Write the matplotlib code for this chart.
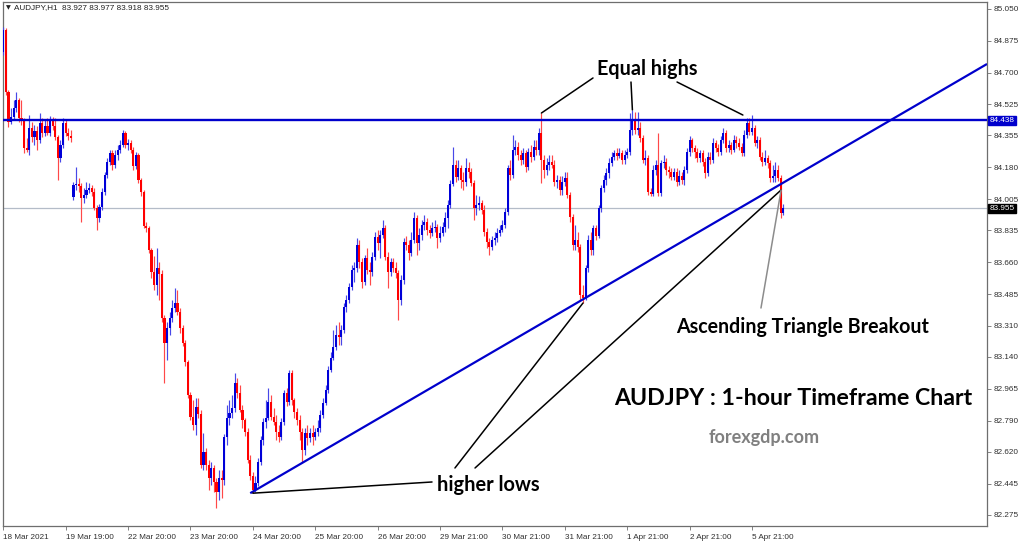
import numpy as np
import matplotlib
matplotlib.use("Agg")
import matplotlib.pyplot as plt
import matplotlib.transforms as mtransforms

# ---------------- data (AUDJPY H1) ----------------
opens = [
    84.813, 84.933, 84.593, 84.429, 84.456, 84.505, 84.549, 84.451, 84.440, 84.286,
    84.275, 84.396, 84.346, 84.379, 84.330, 84.423, 84.368, 84.407, 84.368, 84.440,
    84.407, 84.346, 84.231, 84.303, 84.423, 84.368, 84.352, 84.017, 84.083, 84.089,
    84.078, 84.012, 84.028, 84.056, 84.067, 84.045, 83.957, 83.902, 83.962, 84.045,
    84.138, 84.209, 84.259, 84.193, 84.248, 84.275, 84.303, 84.368, 84.303, 84.313,
    84.275, 84.187, 84.248, 84.111, 84.045, 83.858, 83.847, 83.726, 83.606, 83.534,
    83.628, 83.595, 83.353, 83.216, 83.299, 83.353, 83.408, 83.436, 83.386, 83.299,
    83.216, 83.112, 82.931, 82.810, 82.766, 82.865, 82.827, 82.547, 82.618, 82.547,
    82.476, 82.531, 82.454, 82.399, 82.476, 82.465, 82.701, 82.805, 82.832, 82.860,
    82.997, 82.942, 82.849, 82.794, 82.728, 82.574, 82.487, 82.410, 82.448, 82.563,
    82.684, 82.783, 82.805, 82.893, 82.810, 82.783, 82.728, 82.701, 82.783, 82.942,
    82.893, 83.052, 82.904, 82.838, 82.794, 82.728, 82.629, 82.723, 82.695, 82.723,
    82.701, 82.728, 82.750, 82.821, 82.887, 82.959, 83.068, 83.134, 83.194, 83.260,
    83.249, 83.288, 83.414, 83.452, 83.523, 83.617, 83.628, 83.754, 83.661, 83.551,
    83.683, 83.617, 83.606, 83.688, 83.798, 83.765, 83.809, 83.847, 83.688, 83.606,
    83.661, 83.628, 83.600, 83.452, 83.562, 83.770, 83.754, 83.710, 83.781, 83.902,
    83.765, 83.809, 83.864, 83.880, 83.836, 83.820, 83.847, 83.853, 83.792, 83.820,
    83.853, 83.902, 83.973, 84.089, 84.193, 84.127, 84.176, 84.111, 84.100, 84.176,
    84.154, 84.094, 83.957, 83.973, 83.984, 83.946, 83.825, 83.770, 83.743, 83.781,
    83.792, 83.820, 83.836, 83.864, 83.935, 84.176, 84.138, 84.275, 84.292, 84.248,
    84.220, 84.259, 84.182, 84.264, 84.237, 84.292, 84.275, 84.368, 84.220, 84.165,
    84.193, 84.209, 84.193, 84.100, 84.111, 84.056, 84.100, 84.121, 84.028, 83.908,
    83.754, 83.781, 83.743, 83.480, 83.463, 83.628, 83.781, 83.726, 83.847, 83.803,
    83.957, 84.067, 84.111, 84.149, 84.204, 84.237, 84.259, 84.242, 84.259, 84.220,
    84.248, 84.264, 84.385, 84.440, 84.385, 84.396, 84.341, 84.220, 84.231, 84.045,
    84.034, 84.165, 84.193, 84.039, 84.204, 84.209, 84.165, 84.154, 84.127, 84.154,
    84.100, 84.132, 84.111, 84.165, 84.264, 84.330, 84.286, 84.264, 84.231, 84.259,
    84.209, 84.149, 84.237, 84.220, 84.313, 84.286, 84.264, 84.330, 84.368, 84.286,
    84.303, 84.275, 84.330, 84.313, 84.292, 84.259, 84.357, 84.423, 84.374, 84.396,
    84.313, 84.330, 84.237, 84.209, 84.231, 84.204, 84.121, 84.132, 84.165, 84.121,
    83.927,
]
highs = [
    84.950, 84.944, 84.604, 84.505, 84.549, 84.593, 84.560, 84.549, 84.451, 84.341,
    84.467, 84.429, 84.412, 84.407, 84.478, 84.451, 84.440, 84.451, 84.462, 84.456,
    84.451, 84.357, 84.330, 84.451, 84.440, 84.396, 84.385, 84.100, 84.182, 84.121,
    84.094, 84.067, 84.100, 84.094, 84.083, 84.067, 83.973, 83.979, 84.067, 84.154,
    84.231, 84.275, 84.275, 84.275, 84.303, 84.330, 84.385, 84.379, 84.335, 84.330,
    84.292, 84.264, 84.259, 84.121, 84.056, 83.880, 83.858, 83.737, 83.694, 83.737,
    83.661, 83.617, 83.370, 83.331, 83.386, 83.452, 83.518, 83.507, 83.408, 83.315,
    83.233, 83.123, 82.948, 82.904, 82.915, 82.915, 82.849, 82.723, 82.640, 82.574,
    82.563, 82.547, 82.476, 82.520, 82.520, 82.717, 82.876, 82.904, 82.931, 83.052,
    83.024, 82.986, 82.876, 82.805, 82.750, 82.602, 82.509, 82.487, 82.585, 82.706,
    82.805, 82.904, 82.970, 82.931, 82.860, 82.821, 82.766, 82.805, 82.959, 82.970,
    83.068, 83.068, 82.915, 82.860, 82.821, 82.750, 82.750, 82.766, 82.750, 82.766,
    82.750, 82.794, 82.849, 82.915, 82.986, 83.090, 83.167, 83.288, 83.315, 83.331,
    83.315, 83.436, 83.480, 83.545, 83.644, 83.661, 83.792, 83.781, 83.683, 83.699,
    83.737, 83.661, 83.716, 83.825, 83.836, 83.836, 83.891, 83.864, 83.716, 83.683,
    83.683, 83.661, 83.617, 83.589, 83.792, 83.803, 83.781, 83.825, 83.935, 83.918,
    83.847, 83.891, 83.918, 83.902, 83.864, 83.880, 83.891, 83.869, 83.858, 83.880,
    83.935, 84.001, 84.111, 84.292, 84.220, 84.220, 84.193, 84.154, 84.231, 84.209,
    84.176, 84.111, 84.028, 84.023, 84.001, 83.973, 83.847, 83.792, 83.803, 83.825,
    83.847, 83.864, 83.891, 83.957, 84.193, 84.220, 84.357, 84.330, 84.319, 84.275,
    84.286, 84.275, 84.286, 84.303, 84.330, 84.330, 84.396, 84.478, 84.248, 84.231,
    84.248, 84.248, 84.220, 84.138, 84.132, 84.132, 84.154, 84.154, 84.045, 83.924,
    83.864, 83.825, 83.759, 83.534, 83.644, 83.809, 83.825, 83.864, 83.864, 83.973,
    84.083, 84.138, 84.176, 84.231, 84.264, 84.275, 84.286, 84.286, 84.275, 84.275,
    84.286, 84.478, 84.495, 84.484, 84.484, 84.429, 84.357, 84.275, 84.248, 84.067,
    84.193, 84.220, 84.368, 84.220, 84.248, 84.231, 84.187, 84.176, 84.176, 84.176,
    84.165, 84.154, 84.187, 84.286, 84.352, 84.341, 84.303, 84.286, 84.275, 84.275,
    84.231, 84.264, 84.264, 84.341, 84.330, 84.308, 84.352, 84.396, 84.385, 84.330,
    84.319, 84.357, 84.352, 84.341, 84.313, 84.385, 84.451, 84.451, 84.467, 84.412,
    84.352, 84.346, 84.264, 84.275, 84.248, 84.220, 84.193, 84.209, 84.193, 84.138,
    83.977,
]
lows = [
    84.796, 84.577, 84.401, 84.418, 84.440, 84.484, 84.429, 84.412, 84.259, 84.264,
    84.248, 84.319, 84.303, 84.275, 84.313, 84.346, 84.352, 84.357, 84.352, 84.385,
    84.330, 84.111, 84.209, 84.286, 84.352, 84.330, 84.319, 84.001, 84.056, 84.045,
    83.880, 83.984, 84.012, 84.039, 84.023, 83.946, 83.836, 83.880, 83.946, 84.028,
    84.121, 84.193, 84.165, 84.176, 84.220, 84.259, 84.292, 84.286, 84.275, 84.259,
    84.165, 84.171, 84.094, 84.023, 83.847, 83.825, 83.710, 83.573, 83.507, 83.480,
    83.452, 83.331, 82.997, 83.123, 83.260, 83.331, 83.386, 83.370, 83.271, 83.200,
    83.090, 82.915, 82.794, 82.739, 82.712, 82.805, 82.531, 82.520, 82.520, 82.410,
    82.437, 82.399, 82.311, 82.355, 82.366, 82.437, 82.657, 82.766, 82.805, 82.838,
    82.915, 82.838, 82.750, 82.706, 82.558, 82.465, 82.393, 82.399, 82.432, 82.547,
    82.657, 82.750, 82.794, 82.794, 82.766, 82.684, 82.673, 82.684, 82.766, 82.871,
    82.876, 82.876, 82.805, 82.766, 82.684, 82.563, 82.602, 82.657, 82.673, 82.657,
    82.684, 82.706, 82.728, 82.805, 82.876, 82.942, 83.057, 83.123, 83.178, 83.205,
    83.205, 83.271, 83.386, 83.436, 83.507, 83.551, 83.606, 83.628, 83.518, 83.534,
    83.595, 83.534, 83.584, 83.672, 83.726, 83.683, 83.792, 83.672, 83.518, 83.584,
    83.606, 83.573, 83.342, 83.425, 83.540, 83.726, 83.672, 83.694, 83.765, 83.699,
    83.726, 83.781, 83.836, 83.809, 83.792, 83.803, 83.825, 83.737, 83.770, 83.803,
    83.825, 83.847, 83.957, 84.078, 84.100, 84.111, 84.067, 84.056, 84.078, 84.121,
    84.078, 83.891, 83.918, 83.946, 83.924, 83.803, 83.737, 83.699, 83.726, 83.754,
    83.770, 83.803, 83.825, 83.847, 83.918, 84.111, 84.121, 84.248, 84.220, 84.193,
    84.198, 84.154, 84.165, 84.209, 84.220, 84.248, 84.248, 84.094, 84.121, 84.138,
    84.165, 84.176, 84.078, 84.067, 84.028, 84.028, 84.078, 84.012, 83.880, 83.726,
    83.726, 83.716, 83.452, 83.436, 83.452, 83.606, 83.699, 83.699, 83.781, 83.792,
    83.935, 84.045, 84.083, 84.121, 84.187, 84.220, 84.220, 84.231, 84.198, 84.198,
    84.231, 84.248, 84.357, 84.363, 84.357, 84.319, 84.204, 84.193, 84.028, 84.023,
    84.023, 84.138, 84.023, 84.023, 84.176, 84.138, 84.121, 84.111, 84.111, 84.078,
    84.083, 84.089, 84.083, 84.149, 84.242, 84.264, 84.231, 84.209, 84.209, 84.187,
    84.121, 84.132, 84.198, 84.204, 84.264, 84.242, 84.248, 84.313, 84.264, 84.264,
    84.253, 84.264, 84.286, 84.275, 84.242, 84.242, 84.341, 84.357, 84.357, 84.297,
    84.286, 84.220, 84.187, 84.193, 84.176, 84.100, 84.100, 84.100, 84.105, 83.902,
    83.918,
]
closes = [
    84.933, 84.593, 84.429, 84.456, 84.505, 84.549, 84.451, 84.440, 84.286, 84.275,
    84.396, 84.346, 84.379, 84.330, 84.423, 84.368, 84.407, 84.368, 84.440, 84.407,
    84.346, 84.231, 84.303, 84.423, 84.368, 84.352, 84.341, 84.083, 84.089, 84.078,
    84.012, 84.028, 84.056, 84.067, 84.045, 83.957, 83.902, 83.962, 84.045, 84.138,
    84.209, 84.259, 84.193, 84.248, 84.275, 84.303, 84.368, 84.303, 84.313, 84.275,
    84.187, 84.248, 84.111, 84.045, 83.858, 83.847, 83.726, 83.606, 83.534, 83.628,
    83.595, 83.353, 83.216, 83.299, 83.353, 83.408, 83.436, 83.386, 83.299, 83.216,
    83.112, 82.931, 82.810, 82.766, 82.865, 82.827, 82.547, 82.618, 82.547, 82.476,
    82.531, 82.454, 82.399, 82.476, 82.465, 82.701, 82.805, 82.832, 82.860, 82.997,
    82.942, 82.849, 82.794, 82.728, 82.574, 82.487, 82.410, 82.448, 82.563, 82.684,
    82.783, 82.805, 82.893, 82.810, 82.783, 82.728, 82.701, 82.783, 82.942, 82.893,
    83.052, 82.904, 82.838, 82.794, 82.728, 82.629, 82.723, 82.695, 82.723, 82.701,
    82.728, 82.750, 82.821, 82.887, 82.959, 83.068, 83.134, 83.194, 83.260, 83.249,
    83.288, 83.414, 83.452, 83.523, 83.617, 83.628, 83.754, 83.661, 83.551, 83.683,
    83.617, 83.606, 83.688, 83.798, 83.765, 83.809, 83.847, 83.688, 83.606, 83.661,
    83.628, 83.600, 83.452, 83.562, 83.770, 83.754, 83.710, 83.781, 83.902, 83.765,
    83.809, 83.864, 83.880, 83.836, 83.820, 83.847, 83.853, 83.792, 83.820, 83.853,
    83.902, 83.973, 84.089, 84.193, 84.127, 84.176, 84.111, 84.100, 84.176, 84.154,
    84.094, 83.957, 83.973, 83.984, 83.946, 83.825, 83.770, 83.743, 83.781, 83.792,
    83.820, 83.836, 83.864, 83.935, 84.176, 84.138, 84.275, 84.292, 84.248, 84.220,
    84.259, 84.182, 84.264, 84.237, 84.292, 84.275, 84.368, 84.220, 84.165, 84.193,
    84.209, 84.193, 84.100, 84.111, 84.056, 84.100, 84.121, 84.028, 83.908, 83.754,
    83.781, 83.743, 83.480, 83.463, 83.628, 83.781, 83.726, 83.847, 83.803, 83.957,
    84.067, 84.111, 84.149, 84.204, 84.237, 84.259, 84.242, 84.259, 84.220, 84.248,
    84.264, 84.385, 84.440, 84.385, 84.396, 84.341, 84.220, 84.231, 84.045, 84.034,
    84.165, 84.193, 84.039, 84.204, 84.209, 84.165, 84.154, 84.127, 84.154, 84.100,
    84.132, 84.111, 84.165, 84.264, 84.330, 84.286, 84.264, 84.231, 84.259, 84.209,
    84.149, 84.237, 84.220, 84.313, 84.286, 84.264, 84.330, 84.368, 84.286, 84.303,
    84.275, 84.330, 84.313, 84.292, 84.259, 84.357, 84.423, 84.374, 84.396, 84.313,
    84.330, 84.237, 84.209, 84.231, 84.204, 84.121, 84.132, 84.165, 84.121, 83.927,
    83.955,
]

# x-axis tick labels (one every 24 hourly bars)
tick_bars = [0, 24, 48, 72, 96, 120, 144, 168, 192, 216, 240, 264, 288]
tick_labels = ["18 Mar 2021", "19 Mar 19:00", "22 Mar 20:00", "23 Mar 20:00",
               "24 Mar 20:00", "25 Mar 20:00", "26 Mar 20:00", "29 Mar 21:00",
               "30 Mar 21:00", "31 Mar 21:00", "1 Apr 21:00", "2 Apr 21:00",
               "5 Apr 21:00"]
price_ticks = [85.050, 84.875, 84.700, 84.525, 84.355, 84.180, 84.005, 83.835,
               83.660, 83.485, 83.310, 83.140, 82.965, 82.790, 82.620, 82.445,
               82.275]

resistance = 84.438          # horizontal "equal highs" level
bid_price = 83.955           # current bid
trend_x = [95.0, 378.4]      # ascending trendline (bar index)
trend_y = [82.393, 84.747]   # ascending trendline (price)
equal_high_bars = [207, 242, 288]
higher_low_bars = [96, 223]
breakout_point = (299.2, 84.056)

n = min(len(opens), len(highs), len(lows), len(closes))
o = np.array(opens[:n]); h = np.array(highs[:n])
l = np.array(lows[:n]); c = np.array(closes[:n])
xs = np.arange(n)

# ---------------- figure ----------------
W, H = 1024, 542
fig = plt.figure(figsize=(W / 100, H / 100), dpi=100, facecolor="white")
ax = fig.add_axes([3 / W, 16 / H, 984 / W, 524 / H])
ax.set_facecolor("white")
ax.set_xlim(-0.1, 378.4)
ax.set_ylim(82.213, 85.087)

BLUE = "#0000D8"
RED = "#FF0000"
up = c >= o
col = np.where(up, BLUE, RED)
wick_col = np.where(up, "#4848E8", "#FF4848")

ax.vlines(xs, l, h, colors=wick_col, linewidth=0.85, zorder=3)
body_bottom = np.minimum(o, c)
body_h = np.maximum(np.abs(c - o), 0.004)
ax.bar(xs, body_h, bottom=body_bottom, width=0.82, color=col, linewidth=0, zorder=4)

# levels
ax.axhline(bid_price, color="#B4BCC8", lw=0.9, zorder=2)
ax.axhline(resistance, color="#0000CC", lw=1.7, zorder=5)
ax.plot(trend_x, trend_y, color="#0000CC", lw=1.6, zorder=5, solid_capstyle="butt")

# frame
for s in ax.spines.values():
    s.set_color("#6E6E6E")
    s.set_linewidth(0.9)

axis_font = dict(family=["Liberation Sans", "DejaVu Sans"], size=5.9, color="#303030")

# y axis on right
ax.yaxis.tick_right()
ax.set_yticks(price_ticks)
ax.set_yticklabels([f"{v:.3f}" for v in price_ticks], fontdict=axis_font)
ax.tick_params(axis="y", direction="out", length=3, width=0.6, pad=2, colors="#6E6E6E",
               labelcolor="#303030")

# x axis
ax.set_xticks(tick_bars)
ax.set_xticklabels(tick_labels, fontdict=axis_font, ha="left")
ax.tick_params(axis="x", direction="out", length=3, width=0.6, pad=2.5, colors="#6E6E6E",
               labelcolor="#303030")

# right-axis price boxes
trans = mtransforms.blended_transform_factory(ax.transAxes, ax.transData)
ax.text(1.0025, resistance, f"{resistance:.3f}", transform=trans, ha="left", va="center",
        fontdict=dict(family=["Liberation Sans", "DejaVu Sans"], size=5.9), color="white",
        bbox=dict(boxstyle="square,pad=0.15", fc="#0000CC", ec="#0000CC"), clip_on=False, zorder=10)
ax.text(1.0025, bid_price, f"{bid_price:.3f}", transform=trans, ha="left", va="center",
        fontdict=dict(family=["Liberation Sans", "DejaVu Sans"], size=5.9), color="white",
        bbox=dict(boxstyle="square,pad=0.15", fc="black", ec="black"), clip_on=False, zorder=10)

# header
ax.text(0.003, 0.9885, "\u25BC", transform=ax.transAxes, ha="left", va="center",
        fontsize=4.5, color="#202020", family="DejaVu Sans")
ax.text(0.0115, 0.9885,
        f"AUDJPY,H1  {opens[-1]:.3f} {highs[-1]:.3f} {lows[-1]:.3f} {closes[-1]:.3f}",
        transform=ax.transAxes, ha="left", va="center", color="#202020",
        family=["Liberation Sans", "DejaVu Sans"], fontsize=5.9)

# annotations
ann_font = ["Lato", "DejaVu Sans"]
line_kw = dict(arrowstyle="-", color="black", lw=1.1, shrinkA=0, shrinkB=0)

ax.text(0.6545, 0.872, "Equal highs", transform=ax.transAxes, ha="center", va="center",
        family=ann_font, weight="bold", fontsize=14.2, color="black", zorder=8)
eq_starts = [(0.5996, 0.855), (0.6382, 0.8473), (0.6850, 0.8473)]
eq_targets = [(equal_high_bars[0], highs[equal_high_bars[0]]),
              (equal_high_bars[1], highs[equal_high_bars[1]]),
              (equal_high_bars[2] - 3.5, highs[equal_high_bars[2]])]
for st, tg in zip(eq_starts, eq_targets):
    ax.annotate("", xy=tg, xycoords="data", xytext=st, textcoords="axes fraction",
                arrowprops=line_kw, zorder=8)

ax.text(0.4929, 0.0782, "higher lows", transform=ax.transAxes, ha="center", va="center",
        family=ann_font, weight="bold", fontsize=14.4, color="black", zorder=8)
hl_starts = [(0.436, 0.084), (0.4593, 0.1107), (0.4797, 0.1107)]
hl_targets = [(higher_low_bars[0], lows[higher_low_bars[0]]),
              (higher_low_bars[1], lows[higher_low_bars[1]]),
              breakout_point]
for st, tg in zip(hl_starts, hl_targets):
    ax.annotate("", xy=tg, xycoords="data", xytext=st, textcoords="axes fraction",
                arrowprops=line_kw, zorder=8)

ax.text(0.8130, 0.3798, "Ascending Triangle Breakout", transform=ax.transAxes, ha="center",
        va="center", family=ann_font, weight="bold", fontsize=14.1, color="black", zorder=8)
ax.annotate("", xy=breakout_point, xycoords="data", xytext=(0.7703, 0.416),
            textcoords="axes fraction",
            arrowprops=dict(arrowstyle="-", color="#8C8C8C", lw=1.1, shrinkA=0, shrinkB=0),
            zorder=8)

ax.text(0.8028, 0.2424, "AUDJPY : 1-hour Timeframe Chart", transform=ax.transAxes,
        ha="center", va="center", family=ann_font, weight="bold", fontsize=16.7,
        color="black", zorder=8)
ax.text(0.7734, 0.1698, "forexgdp.com", transform=ax.transAxes, ha="center", va="center",
        family=ann_font, weight="bold", fontsize=13, color="#808080", zorder=8)

fig.savefig("out.png", dpi=100, facecolor="white")
